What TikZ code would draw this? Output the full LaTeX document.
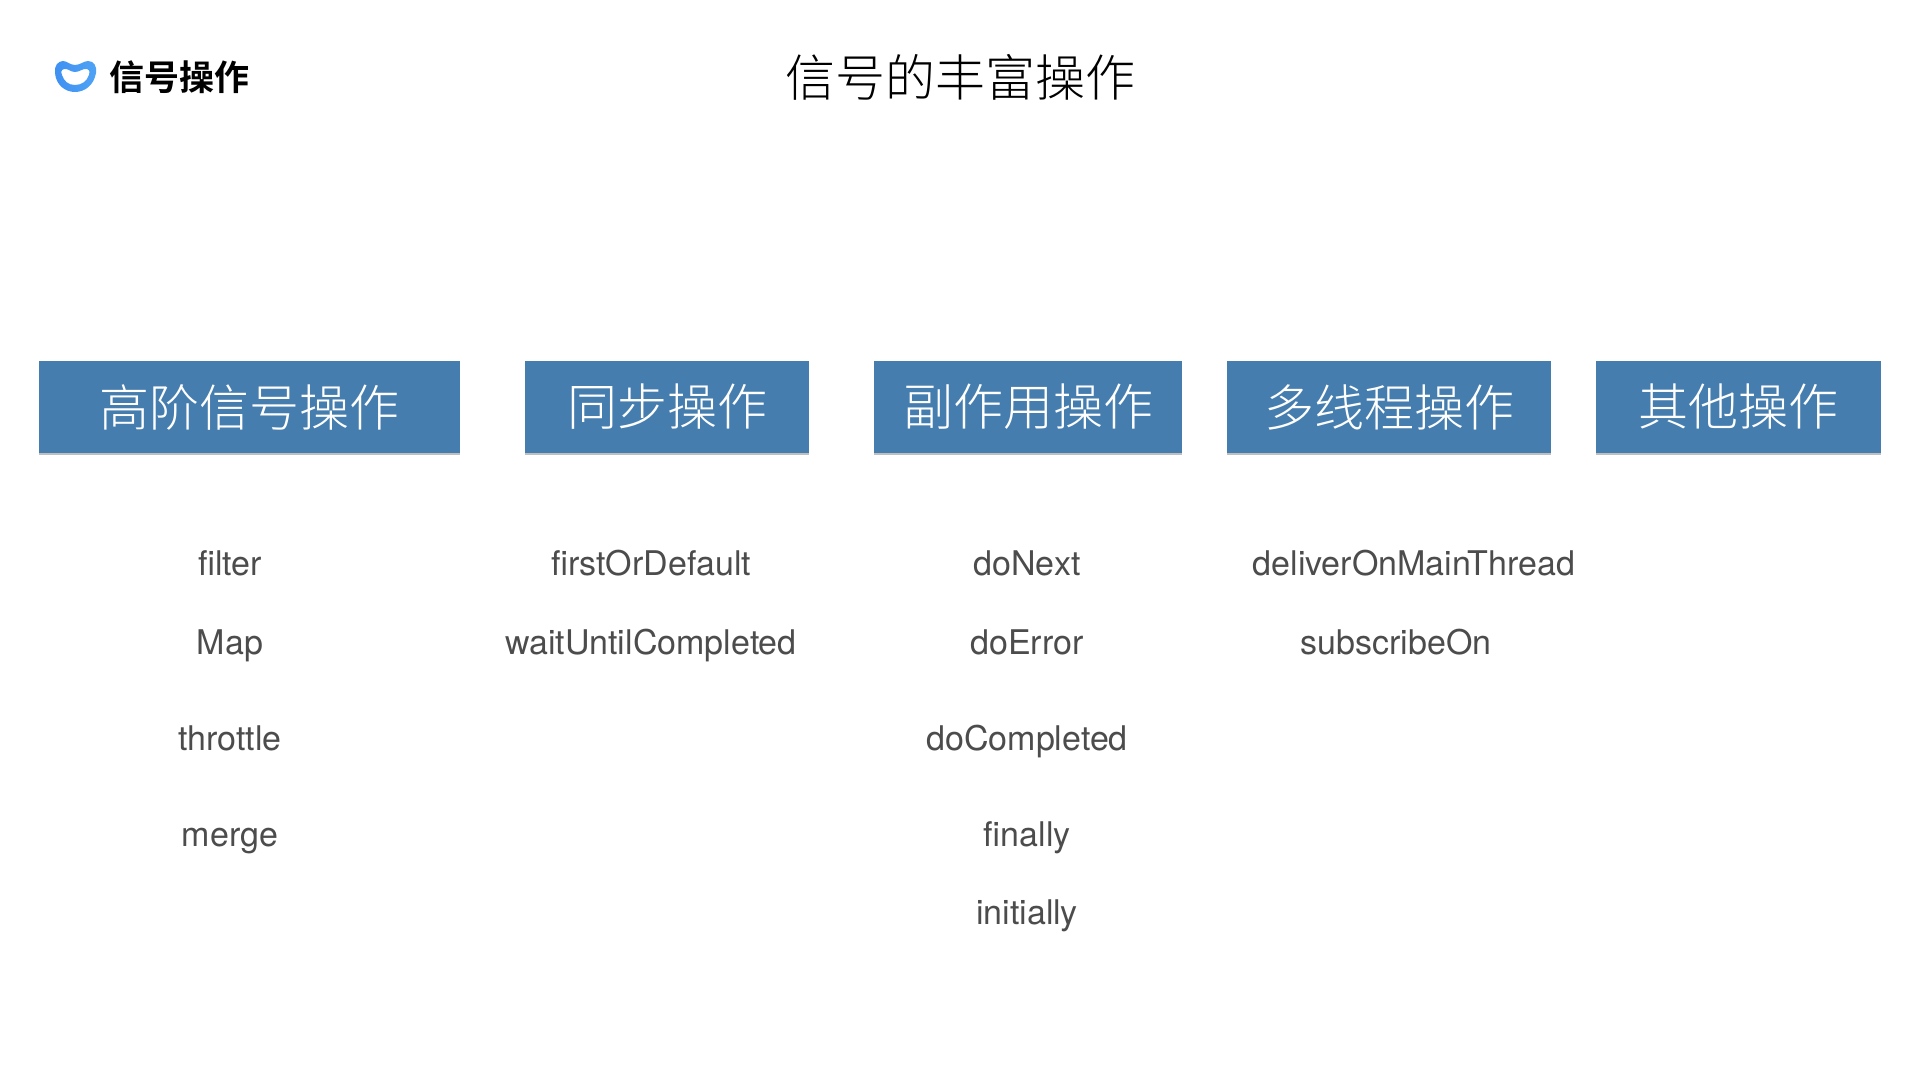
\documentclass[tikz,border=0pt]{standalone}
\usepackage{fontspec}
\setmainfont{TeX Gyre Heros}
\newfontfamily\cjklight{Noto Sans CJK SC Light}
\newfontfamily\cjkbold{Noto Sans CJK SC Bold}
\usetikzlibrary{shadows}
\definecolor{boxblue}{HTML}{457DAE}
\definecolor{opgray}{HTML}{4C4C4C}
\definecolor{logoblue}{HTML}{3F90F2}
\definecolor{logolight}{HTML}{4FA3F5}
\tikzset{
    opbox/.style={fill=boxblue,text=white,inner sep=0pt,font=\cjklight\fontsize{25}{30}\selectfont,
        drop shadow={shadow xshift=0pt,shadow yshift=-1.2pt,opacity=0.5}},
    oplabel/.style={text=opgray,inner sep=0pt,anchor=base,font=\fontsize{17}{20}\selectfont}
}
\begin{document}
\begin{tikzpicture}[y=-0.5pt,x=0.5pt]
    \useasboundingbox (0,0) rectangle (1920,1080);
    % header
    \shade[left color=logoblue,right color=logolight,even odd rule] (75,65) .. controls (80,65) and (84,61) .. (88,61)
        .. controls (94,61) and (97,66) .. (96,73) .. controls (94,85) and (85,92) .. (75,92)
        .. controls (65,92) and (56,85) .. (55,73) .. controls (54,66) and (58,61) .. (63,61)
        .. controls (67,61) and (70,65) .. (75,65) -- cycle
        (75,72) .. controls (80,72) and (83,68) .. (87,69)
        .. controls (90,70) and (90,73) .. (89,75) .. controls (87,81) and (82,85) .. (75,85)
        .. controls (68,85) and (64,81) .. (62,75) .. controls (61,72) and (61,70) .. (64,69)
        .. controls (68,68) and (70,72) .. (75,72) -- cycle;
    \node[anchor=west,inner sep=0pt,font=\cjkbold\fontsize{17.5}{20}\selectfont] (logotext) at (109,77) {信号操作};
    \node[inner sep=0pt,font=\cjklight\fontsize{25}{30}\selectfont] (title) at (960,77) {信号的丰富操作};
    % header boxes
    \foreach \n/\xa/\xb/\t in {high/39/460/高阶信号操作,sync/525/809/同步操作,side/874/1182/副作用操作,thread/1227/1551/多线程操作,other/1596/1881/其他操作}{
        \node[opbox,minimum width=(\xb-\xa)*0.5pt,minimum height=46pt] (\n) at ({(\xa+\xb)/2},407) {\raisebox{-1pt}{\t}};
    }
    % operators
    \foreach \n/\x/\y/\t in {filter/230/575/filter,map/230/654/Map,throttle/230/750/throttle,merge/230/846/merge,
        first/651/575/firstOrDefault,wait/651/654/waitUntilCompleted,
        next/1027/575/doNext,error/1027/654/doError,completed/1027/750/doCompleted,finally/1027/846/finally,initially/1027/924/initially,
        deliver/1414/575/deliverOnMainThread,subscribe/1396/654/subscribeOn}{
        \node[oplabel] (\n) at (\x,\y) {\t};
    }
\end{tikzpicture}
\end{document}
